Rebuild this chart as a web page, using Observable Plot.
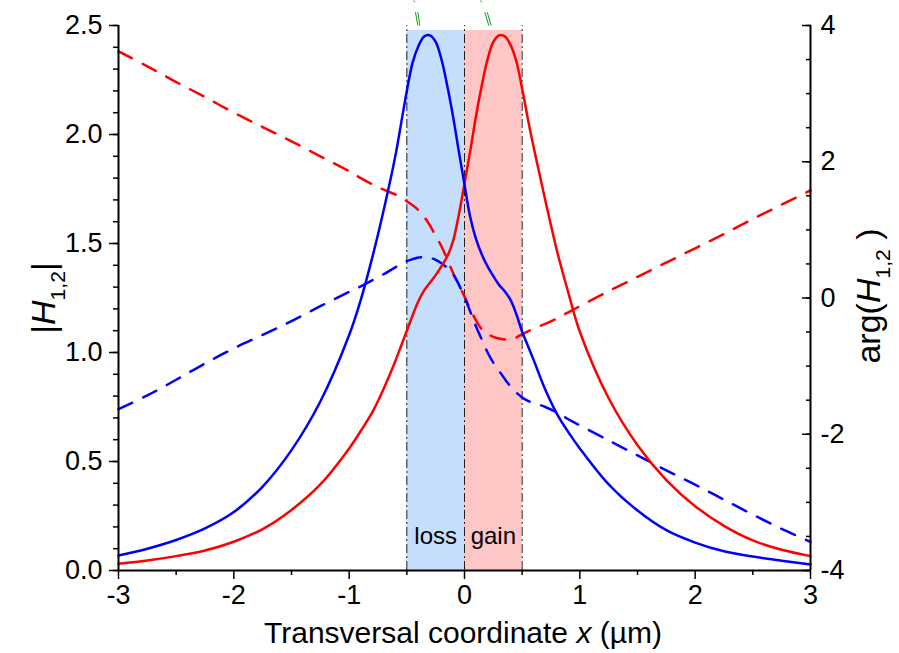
<!DOCTYPE html>
<html>
<head>
<meta charset="utf-8">
<script src="https://cdn.jsdelivr.net/npm/d3@7"></script>
<script src="https://cdn.jsdelivr.net/npm/@observablehq/plot@0.6"></script>
<style>
  body { margin: 0; background: #fff; }
  #chart svg { display: block; }
</style>
</head>
<body>
<div id="chart"></div>
<script>
// Transverse coordinate grid (µm)
const xs = [-3, -2.75, -2.5, -2.25, -2, -1.75, -1.5, -1.25, -1, -0.9, -0.8, -0.7, -0.6, -0.55,
  -0.5, -0.45, -0.4, -0.35, -0.3, -0.25, -0.2, -0.15, -0.1, -0.05, 0, 0.05, 0.1, 0.15, 0.2,
  0.25, 0.3, 0.35, 0.4, 0.45, 0.5, 0.55, 0.6, 0.7, 0.8, 0.9, 1, 1.25, 1.5, 1.75, 2, 2.25,
  2.5, 2.75, 3];

// |H1| (blue) and |H2| (red), left axis
const absH1 = [0.069, 0.100, 0.140, 0.193, 0.268, 0.385, 0.552, 0.775, 1.080, 1.240, 1.435, 1.655, 1.900, 2.050,
  2.200, 2.330, 2.405, 2.450, 2.455, 2.425, 2.345, 2.225, 2.085, 1.925, 1.770, 1.620, 1.520, 1.450, 1.395,
  1.350, 1.310, 1.280, 1.240, 1.175, 1.095, 1.030, 0.965, 0.830, 0.720, 0.635, 0.560, 0.395, 0.275, 0.185, 0.128, 0.088,
  0.064, 0.045, 0.028];
const absH2 = [0.031, 0.046, 0.066, 0.092, 0.132, 0.190, 0.278, 0.395, 0.560, 0.640, 0.725, 0.835, 0.960, 1.030,
  1.100, 1.170, 1.235, 1.285, 1.320, 1.355, 1.395, 1.440, 1.510, 1.630, 1.775, 1.925, 2.085, 2.225, 2.345,
  2.425, 2.455, 2.450, 2.410, 2.335, 2.210, 2.070, 1.940, 1.700, 1.470, 1.275, 1.095, 0.790, 0.575, 0.415, 0.295, 0.205,
  0.138, 0.095, 0.066];

// arg(H1) (blue) and arg(H2) (red), right axis
const argH1 = [-1.63, -1.43, -1.20, -0.96, -0.74, -0.54, -0.34, -0.12, 0.09, 0.17, 0.26, 0.35, 0.45, 0.50,
  0.54, 0.57, 0.595, 0.60, 0.59, 0.56, 0.51, 0.44, 0.35, 0.20, 0.01, -0.20, -0.42, -0.61, -0.80,
  -0.95, -1.07, -1.19, -1.30, -1.39, -1.46, -1.51, -1.54, -1.60, -1.68, -1.78, -1.87, -2.09, -2.31, -2.53, -2.74, -2.96,
  -3.18, -3.39, -3.58];
const argH2 = [3.62, 3.40, 3.17, 2.95, 2.72, 2.51, 2.30, 2.08, 1.86, 1.76, 1.67, 1.59, 1.52, 1.475,
  1.42, 1.36, 1.29, 1.19, 1.065, 0.91, 0.76, 0.57, 0.37, 0.20, 0.02, -0.16, -0.33, -0.46, -0.53,
  -0.57, -0.595, -0.61, -0.61, -0.58, -0.53, -0.49, -0.45, -0.38, -0.30, -0.21, -0.12, 0.10, 0.31, 0.52, 0.73, 0.94,
  1.16, 1.37, 1.58];

// Loss / gain regions of the coupler
const regions = [
  {label: "loss", x1: -0.5, x2: 0, fill: "#c4defb"},
  {label: "gain", x1: 0, x2: 0.5, fill: "#ffc6c6"}
];
const boundaries = [-0.5, 0, 0.5];

// Pointer strokes above the frame
const pointers = [
  {x1: -0.425, y1: 2.561, x2: -0.405, y2: 2.5},
  {x1: -0.405, y1: 2.561, x2: -0.387, y2: 2.5},
  {x1: -0.442, y1: 2.615, x2: -0.430, y2: 2.607},
  {x1: 0.176, y1: 2.561, x2: 0.211, y2: 2.5},
  {x1: 0.197, y1: 2.561, x2: 0.231, y2: 2.5},
  {x1: 0.139, y1: 2.615, x2: 0.150, y2: 2.607}
];

const xMajor = [-3, -2, -1, 0, 1, 2, 3];
const xMinor = [-2.5, -1.5, -0.5, 0.5, 1.5, 2.5];
const yMajor = [0, 0.5, 1, 1.5, 2, 2.5];
const yMinor = d3.range(0, 26).map(i => i / 10);
const argMajor = [-4, -2, 0, 2, 4];
const argMinor = d3.range(-8, 9).map(i => i / 2);

// The phase axis (-4..4) shares the frame with the magnitude axis (0..2.5)
const argToY = a => (a + 4) / 8 * 2.5;
const yToArg = y => y / 2.5 * 8 - 4;

const rows = xs.map((x, i) => ({x, m1: absH1[i], m2: absH2[i], p1: argToY(argH1[i]), p2: argToY(argH2[i])}));

const font = "'Liberation Sans', Arial, sans-serif";
const dash = "15,12";

const chart = Plot.plot({
  width: 899,
  height: 653,
  marginLeft: 118,
  marginRight: 89,
  marginTop: 25,
  marginBottom: 83,
  style: {fontFamily: font, fontSize: "27px", color: "black", background: "white"},
  x: {domain: [-3, 3], label: null},
  y: {domain: [0, 2.5], label: null},
  marks: [
    Plot.rect(regions, {x1: "x1", x2: "x2", y1: 0, y2: 2.477, fill: "fill"}),
    Plot.ruleX(boundaries, {y1: 0, y2: 2.5, stroke: "#222", strokeWidth: 1, strokeDasharray: "9,3,2,3"}),
    Plot.text(regions, {x: d => (d.x1 + d.x2) / 2, y: 0.155, text: "label", fontSize: 24, fill: "black"}),
    Plot.line(rows, {x: "x", y: "p2", stroke: "#ff0000", strokeWidth: 2.5, strokeDasharray: dash, curve: "catmull-rom"}),
    Plot.line(rows, {x: "x", y: "p1", stroke: "#0000ff", strokeWidth: 2.5, strokeDasharray: dash, curve: "catmull-rom"}),
    Plot.line(rows, {x: "x", y: "m2", stroke: "#ff0000", strokeWidth: 2.5, curve: "catmull-rom"}),
    Plot.line(rows, {x: "x", y: "m1", stroke: "#0000ff", strokeWidth: 2.5, curve: "catmull-rom"}),
    Plot.link(pointers, {x1: "x1", y1: "y1", x2: "x2", y2: "y2", stroke: "#1a9a1a", strokeWidth: 1}),
    // frame lines
    Plot.ruleX([-3, 3], {stroke: "black", strokeWidth: 2}),
    Plot.ruleY([0], {stroke: "black", strokeWidth: 2}),
    // bottom axis
    Plot.axisX({ticks: xMajor, tickSize: 9, tickPadding: 5, strokeWidth: 1.5, tickFormat: d => String(d), fontSize: 27, label: null}),
    Plot.axisX({ticks: xMinor, tickSize: 5, strokeWidth: 1.5, tickFormat: () => "", label: null}),
    // left axis
    Plot.axisY({ticks: yMajor, tickSize: 9, tickPadding: 7, strokeWidth: 1.5, tickFormat: d3.format(".1f"), fontSize: 27, label: null}),
    Plot.axisY({ticks: yMinor, tickSize: 5, strokeWidth: 1.5, tickFormat: () => "", label: null}),
    // right axis (phase), ticks pointing inward
    Plot.axisY({anchor: "right", ticks: argMajor.map(argToY), tickSize: 0, tickPadding: 10, tickFormat: y => String(Math.round(yToArg(y))), fontSize: 27, label: null}),
    Plot.axisY({anchor: "right", ticks: argMajor.map(argToY), tickSize: -9, strokeWidth: 1.5, tickFormat: () => "", label: null}),
    Plot.axisY({anchor: "right", ticks: argMinor.map(argToY), tickSize: -5, strokeWidth: 1.5, tickFormat: () => "", label: null})
  ]
});

document.getElementById("chart").append(chart);

// Axis titles with italic symbols and subscripts
const svg = d3.select(chart);
function title(parts, transform, size) {
  const t = svg.append("text")
    .attr("transform", transform)
    .attr("text-anchor", "middle")
    .attr("font-family", font)
    .attr("font-size", size)
    .attr("fill", "black");
  for (const p of parts) {
    const s = t.append("tspan").text(p.text);
    if (p.italic) s.attr("font-style", "italic");
    if (p.sub) s.attr("font-size", size * 0.62).attr("dy", size * 0.28);
    if (p.up) s.attr("dy", -size * 0.28);
  }
  return t;
}
title([{text: "|"}, {text: "H", italic: true}, {text: "1,2", sub: true}, {text: "|", up: true}],
  "translate(55,298) rotate(-90)", 34);
title([{text: "arg("}, {text: "H", italic: true}, {text: "1,2", sub: true}, {text: " )", up: true}],
  "translate(880,296) rotate(-90)", 34);
title([{text: "Transversal coordinate "}, {text: "x", italic: true}, {text: " (µm)"}],
  "translate(463,643)", 30);
</script>
</body>
</html>
